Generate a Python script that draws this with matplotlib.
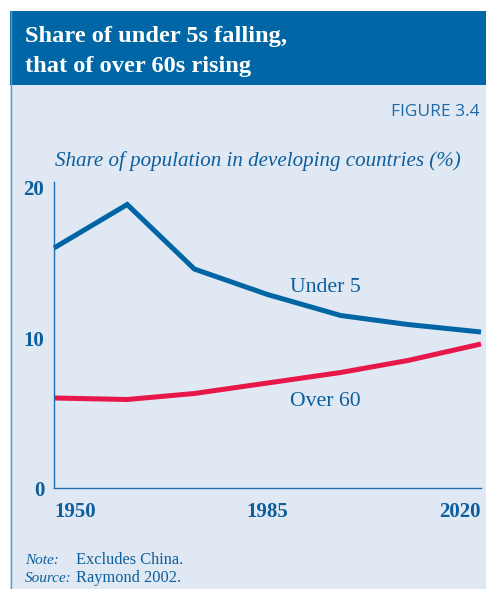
import matplotlib
matplotlib.use("Agg")
import matplotlib.pyplot as plt
from matplotlib.patches import Rectangle
from matplotlib.lines import Line2D

# Data: share of population in developing countries (%), excluding China
years = [1950, 1962, 1973, 1985, 1997, 2008, 2020]
under5 = [16.0, 18.9, 14.6, 12.9, 11.5, 10.9, 10.4]
over60 = [6.0, 5.9, 6.3, 7.0, 7.7, 8.5, 9.6]
ytick_vals = [0, 10, 20]
xtick_vals = [1950, 1985, 2020]

W, H = 486, 589
DPI = 100
BANNER = "#0066a6"
PANEL = "#e0e8f3"
TEXT_BLUE = "#0d5e9c"
LINE_BLUE = "#0065a4"
LINE_RED = "#e8174a"
SERIF = ["Liberation Serif", "DejaVu Serif"]

fig = plt.figure(figsize=(W / DPI, H / DPI), dpi=DPI)
fig.patch.set_facecolor("white")

# Background layer in pixel coordinates (origin at top-left)
bg = fig.add_axes([0, 0, 1, 1])
bg.set_xlim(0, W)
bg.set_ylim(H, 0)
bg.axis("off")
bg.add_patch(Rectangle((10, 11), W - 10, H - 11, facecolor=PANEL, edgecolor="none"))
bg.add_patch(Rectangle((10, 11), W - 10, 74, facecolor=BANNER, edgecolor="none"))
bg.add_line(Line2D([10.5, 10.5], [11, H], color="#5b9ad0", lw=1.0))

bg.text(25, 42, "Share of under 5s falling,", color="white", fontsize=17.6,
        fontweight="bold", family=SERIF, va="baseline", ha="left")
bg.text(25, 72, "that of over 60s rising", color="white", fontsize=17.6,
        fontweight="bold", family=SERIF, va="baseline", ha="left")
bg.text(480, 116, "FIGURE 3.4", color="#1e6aa8", fontsize=12.5,
        family=["Liberation Sans Narrow", "Open Sans"], va="baseline", ha="right")
bg.text(55, 166, "Share of population in developing countries (%)", color=TEXT_BLUE,
        fontsize=15.1, style="italic", family=SERIF, va="baseline", ha="left")

bg.text(25, 564, "Note:", color=TEXT_BLUE, fontsize=11.0, style="italic",
        family=SERIF, va="baseline")
bg.text(76, 564, "Excludes China.", color=TEXT_BLUE, fontsize=11.8,
        family=SERIF, va="baseline")
bg.text(25, 582, "Source:", color=TEXT_BLUE, fontsize=11.0, style="italic",
        family=SERIF, va="baseline")
bg.text(76, 582, "Raymond 2002.", color=TEXT_BLUE, fontsize=11.8,
        family=SERIF, va="baseline")

# Main chart axes
x0, x1 = 54, 481
y_zero, y_top = 488, 182
ax = fig.add_axes([x0 / W, (H - y_zero) / H, (x1 - x0) / W, (y_zero - y_top) / H])
ax.set_facecolor("none")
ax.set_xlim(1950, 2020)
ax.set_ylim(0, 20.4)

ax.plot(years, under5, color=LINE_BLUE, lw=3.6, solid_joinstyle="miter",
        solid_capstyle="butt", clip_on=False)
ax.plot(years, over60, color=LINE_RED, lw=3.6, solid_joinstyle="miter",
        solid_capstyle="butt", clip_on=False)

ax.text(1988.7, 13.07, "Under 5", color=TEXT_BLUE, fontsize=15.7, family=SERIF,
        ha="left", va="baseline")
ax.text(1988.7, 5.47, "Over 60", color=TEXT_BLUE, fontsize=15.7, family=SERIF,
        ha="left", va="baseline")

for s in ["top", "right"]:
    ax.spines[s].set_visible(False)
for s in ["left", "bottom"]:
    ax.spines[s].set_color("#1f6fb0")
    ax.spines[s].set_linewidth(1.0)

ax.set_yticks(ytick_vals)
ax.set_yticklabels([str(v) for v in ytick_vals])
ax.set_xticks(xtick_vals)
ax.set_xticklabels([str(v) for v in xtick_vals])
ax.tick_params(axis="y", length=0, pad=7)
ax.tick_params(axis="x", length=0, pad=10)
for lab in ax.get_yticklabels():
    lab.set_fontfamily(SERIF)
    lab.set_fontweight("bold")
    lab.set_fontsize(15)
    lab.set_color(TEXT_BLUE)
for lab, ha in zip(ax.get_xticklabels(), ["left", "center", "right"]):
    lab.set_fontfamily(SERIF)
    lab.set_fontweight("bold")
    lab.set_fontsize(15)
    lab.set_color(TEXT_BLUE)
    lab.set_horizontalalignment(ha)

fig.savefig("out.png", dpi=DPI, facecolor=fig.get_facecolor())
